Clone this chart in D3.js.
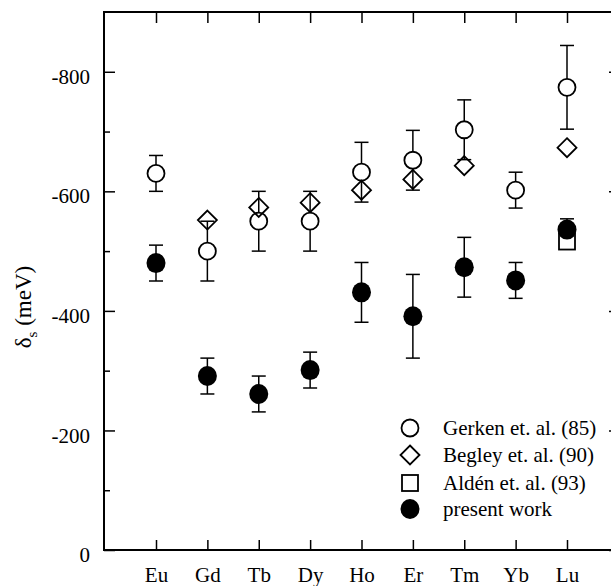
<!doctype html>
<html lang="en">
<head>
<meta charset="utf-8">
<script src="https://d3js.org/d3.v7.min.js"></script>
<style>
  body { margin: 0; background: #fff; }
  text { font-family: "Liberation Serif", "DejaVu Serif", serif; fill: #000; }
</style>
</head>
<body>
<div id="chart"></div>
<script>
// data
var elements = ["Eu", "Gd", "Tb", "Dy", "Ho", "Er", "Tm", "Yb", "Lu"];
var gerkenVal = [-630, -500, -550, -550, -632, -652, -703, -602, -774];
var gerkenErr = [30, 50, 50, 50, 50, 50, 50, 30, 70];
var begleyEl = ["Gd", "Tb", "Dy", "Ho", "Er", "Tm", "Lu"];
var begleyVal = [-552, -573, -581, -602, -620, -643, -673];
var aldenEl = ["Lu"];
var aldenVal = [-516];
var presentVal = [-480, -291, -261, -301, -431, -391, -473, -451, -536];
var presentErr = [30, 30, 30, 30, 50, 70, 50, 30, 18];
var majorTicks = [0, -200, -400, -600, -800];
var minorTicks = [-100, -300, -500, -700];
var legendLabels = ["Gerken et. al. (85)", "Begley et. al. (90)", "Ald\u00e9n et. al. (93)", "present work"];

var W = 611, H = 586;
var pLeft = 104, pRight = 619, pTop = 12, pBottom = 550;

var svg = d3.select("#chart").append("svg")
    .attr("width", W)
    .attr("height", H);

var x = d3.scalePoint().domain(elements).range([156, 567]);
var y = d3.scaleLinear().domain([0, -900]).range([pBottom, pTop]);

// axes, ticks pointing inward
var gl = svg.append("g").attr("transform", "translate(" + pLeft + ",0)")
    .call(d3.axisLeft(y).tickValues(majorTicks).tickSize(-11).tickPadding(14)
        .tickFormat(function (d) { return String(d); }));
gl.selectAll("text").attr("dy", "0.55em").style("font-size", "21px");

svg.append("g").attr("transform", "translate(" + pLeft + ",0)")
    .call(d3.axisLeft(y).tickValues(minorTicks).tickSize(-6).tickFormat(""));

svg.append("g").attr("transform", "translate(" + pRight + ",0)")
    .call(d3.axisRight(y).tickValues(majorTicks).tickSize(-10).tickFormat(""));

svg.append("g").attr("transform", "translate(0," + pTop + ")")
    .call(d3.axisTop(x).tickSize(-11).tickFormat(""));

var gb = svg.append("g").attr("transform", "translate(0," + pBottom + ")")
    .call(d3.axisBottom(x).tickSize(-10).tickPadding(17));
gb.selectAll("text").style("font-size", "21px");

svg.selectAll(".domain").remove();
svg.selectAll(".tick line").attr("stroke", "#000").attr("stroke-width", 1.5);

svg.append("rect")
    .attr("x", pLeft).attr("y", pTop)
    .attr("width", pRight - pLeft).attr("height", pBottom - pTop)
    .attr("fill", "none").attr("stroke", "#000").attr("stroke-width", 2);

// y title
svg.append("text")
    .attr("transform", "translate(31,307) rotate(-90)")
    .attr("text-anchor", "middle")
    .style("font-size", "23px")
    .html("\u03b4<tspan dy='6' font-size='15px'>s</tspan><tspan dy='-6'> (meV)</tspan>");

// error bars
function errorBars(vals, errs) {
    var g = svg.append("g").attr("stroke", "#000").attr("stroke-width", 1.5);
    elements.forEach(function (e, i) {
        var cx = x(e), y1 = y(vals[i] - errs[i]), y2 = y(vals[i] + errs[i]);
        g.append("line").attr("x1", cx).attr("x2", cx).attr("y1", y1).attr("y2", y2);
        g.append("line").attr("x1", cx - 7).attr("x2", cx + 7).attr("y1", y1).attr("y2", y1);
        g.append("line").attr("x1", cx - 7).attr("x2", cx + 7).attr("y1", y2).attr("y2", y2);
    });
}
errorBars(gerkenVal, gerkenErr);
errorBars(presentVal, presentErr);

// Gerken open circles
svg.append("g").selectAll("circle")
    .data(gerkenVal).enter().append("circle")
    .attr("cx", function (d, i) { return x(elements[i]); })
    .attr("cy", function (d) { return y(d); })
    .attr("r", 8.5)
    .attr("fill", "#fff").attr("stroke", "#000").attr("stroke-width", 1.8);

// Begley diamonds
var diamond = function (s) { return "M0," + (-s) + "L" + s + ",0L0," + s + "L" + (-s) + ",0Z"; };
svg.append("g").selectAll("path")
    .data(begleyVal).enter().append("path")
    .attr("transform", function (d, i) { return "translate(" + x(begleyEl[i]) + "," + y(d) + ")"; })
    .attr("d", diamond(9.5))
    .attr("fill", "none").attr("stroke", "#000").attr("stroke-width", 1.8);

// Alden squares
svg.append("g").selectAll("rect")
    .data(aldenVal).enter().append("rect")
    .attr("x", function (d, i) { return x(aldenEl[i]) - 8; })
    .attr("y", function (d) { return y(d) - 8; })
    .attr("width", 16).attr("height", 16)
    .attr("fill", "#fff").attr("stroke", "#000").attr("stroke-width", 1.8);

// present work filled circles
svg.append("g").selectAll("ellipse")
    .data(presentVal).enter().append("ellipse")
    .attr("cx", function (d, i) { return x(elements[i]); })
    .attr("cy", function (d) { return y(d); })
    .attr("rx", 9.5).attr("ry", 10)
    .attr("fill", "#000");

// legend
var lg = svg.append("g");
var rows = [428, 455, 483, 509];
lg.append("circle").attr("cx", 410).attr("cy", rows[0]).attr("r", 8.5)
    .attr("fill", "none").attr("stroke", "#000").attr("stroke-width", 1.8);
lg.append("path").attr("transform", "translate(410," + rows[1] + ")").attr("d", diamond(9.5))
    .attr("fill", "none").attr("stroke", "#000").attr("stroke-width", 1.8);
lg.append("rect").attr("x", 402).attr("y", rows[2] - 8).attr("width", 16).attr("height", 16)
    .attr("fill", "none").attr("stroke", "#000").attr("stroke-width", 1.8);
lg.append("ellipse").attr("cx", 410).attr("cy", rows[3]).attr("rx", 9.5).attr("ry", 10).attr("fill", "#000");

lg.selectAll("text").data(legendLabels).enter().append("text")
    .attr("x", 443)
    .attr("y", function (d, i) { return rows[i]; })
    .attr("dy", "0.35em")
    .style("font-size", "21px")
    .text(function (d) { return d; });
</script>
</body>
</html>
